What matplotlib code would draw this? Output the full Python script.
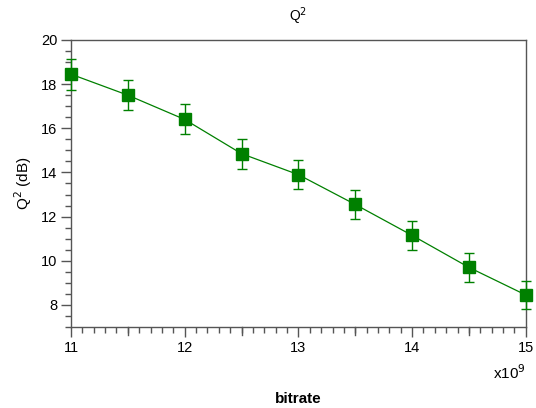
import matplotlib
matplotlib.use("Agg")
import matplotlib.pyplot as plt
from matplotlib.ticker import MultipleLocator

plt.rcParams["font.family"] = ["Liberation Sans", "DejaVu Sans"]

# bitrate in units of 1e9
bitrate = [11.0, 11.5, 12.0, 12.5, 13.0, 13.5, 14.0, 14.5, 15.0]
q2_db = [18.45, 17.5, 16.4, 14.85, 13.9, 12.55, 11.15, 9.7, 8.45]
q2_err = [0.7, 0.68, 0.68, 0.68, 0.65, 0.65, 0.65, 0.65, 0.65]

green = "#008000"
axis_grey = "#555555"

fig = plt.figure(figsize=(5.36, 4.08), dpi=100)
ax = fig.add_axes([0.1325, 0.1985, 0.8485, 0.7035])

ax.errorbar(bitrate, q2_db, yerr=q2_err, color=green, lw=0.9, marker="s",
            markersize=8.5, capsize=3.5, elinewidth=1.0, capthick=1.0,
            clip_on=False, zorder=3)

ax.set_xlim(11, 15)
ax.set_ylim(7, 20)
ax.xaxis.set_major_locator(MultipleLocator(1))
ax.xaxis.set_minor_locator(MultipleLocator(0.1))
ax.yaxis.set_major_locator(MultipleLocator(2))
ax.yaxis.set_minor_locator(MultipleLocator(0.5))

ax.tick_params(which="major", length=7, width=1, color=axis_grey, labelsize=10.5,
               pad=3)
ax.tick_params(which="minor", length=4, width=1, color=axis_grey)
ax.tick_params(top=False, right=False)

# medium ticks at half units on x
for xv in [11.5, 12.5, 13.5, 14.5]:
    ax.plot([xv, xv], [0, -0.028], transform=ax.get_xaxis_transform(),
            color=axis_grey, lw=1, clip_on=False)

for side in ["left", "bottom", "top", "right"]:
    ax.spines[side].set_color(axis_grey)
    ax.spines[side].set_linewidth(1)

ax.set_title("Q$^2$", fontsize=10, pad=14)
ax.set_ylabel("Q$^2$ (dB)", fontsize=11, labelpad=5)
ax.set_xlabel("bitrate", fontsize=11, fontweight="bold", labelpad=27)
ax.text(1.0, -0.16, "x10$^9$", transform=ax.transAxes, fontsize=11,
        ha="right", va="center")

fig.savefig("out.png", dpi=100)
